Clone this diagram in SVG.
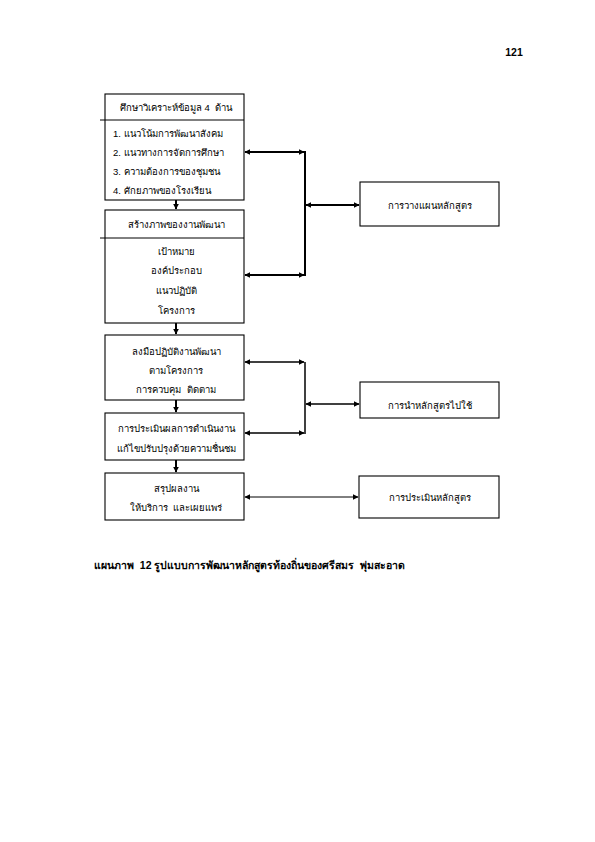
<svg xmlns="http://www.w3.org/2000/svg" width="595" height="842" viewBox="0 0 595 842">
<style>
text{font-family:"Liberation Sans","Noto Sans",sans-serif;font-size:9.5px;fill:#000;white-space:pre}
.c{text-anchor:middle}
.b{font-weight:bold}
.cap{font-size:10.5px}
.box{fill:#fff;stroke:#000;stroke-width:1.1}
.div{stroke:#000;stroke-width:1}
.w2{stroke:#000;stroke-width:2;fill:none}
.w15{stroke:#000;stroke-width:1.5;fill:none}
.w1{stroke:#000;stroke-width:1;fill:none}
</style>
<defs>
<marker id="ah" viewBox="0 0 10 10" refX="9" refY="5" markerWidth="6" markerHeight="6" markerUnits="userSpaceOnUse" orient="auto-start-reverse"><path d="M0,0 L10,5 L0,10 z" fill="#000"/></marker>
</defs>
<rect width="595" height="842" fill="#fff"/>
<text x="514" y="56" class="c b cap">121</text>
<g id="n1">
<rect class="box" x="105" y="94" width="139" height="106"/>
<line class="div" x1="100" y1="120" x2="244" y2="120"/>
<text x="176" y="111" class="c" xml:space="preserve">ศึกษาวิเคราะห์ข้อมูล 4  ด้าน</text>
<text x="113" y="137">1. แนวโน้มการพัฒนาสังคม</text>
<text x="113" y="156">2. แนวทางการจัดการศึกษา</text>
<text x="113" y="175">3. ความต้องการของชุมชน</text>
<text x="113" y="194">4. ศักยภาพของโรงเรียน</text>
</g>
<g id="n2">
<rect class="box" x="105" y="210" width="139" height="113"/>
<line class="div" x1="100" y1="238" x2="244" y2="238"/>
<text x="176" y="228" class="c">สร้างภาพของงานพัฒนา</text>
<text x="176" y="255" class="c">เป้าหมาย</text>
<text x="176" y="274" class="c">องค์ประกอบ</text>
<text x="176" y="294" class="c">แนวปฏิบัติ</text>
<text x="176" y="314" class="c">โครงการ</text>
</g>
<g id="n3">
<rect class="box" x="105" y="335" width="139" height="65"/>
<text x="176" y="355" class="c">ลงมือปฏิบัติงานพัฒนา</text>
<text x="176" y="374" class="c">ตามโครงการ</text>
<text x="176" y="393" class="c" xml:space="preserve">การควบคุม  ติดตาม</text>
</g>
<g id="n4">
<rect class="box" x="105" y="413" width="139" height="47"/>
<text x="176" y="432" class="c">การประเมินผลการดำเนินงาน</text>
<text x="176" y="452" class="c">แก้ไขปรับปรุงด้วยความชื่นชม</text>
</g>
<g id="n5">
<rect class="box" x="105" y="473" width="139" height="47"/>
<text x="176" y="492" class="c">สรุปผลงาน</text>
<text x="176" y="511" class="c" xml:space="preserve">ให้บริการ  และเผยแพร่</text>
</g>
<g id="nA">
<rect class="box" x="360" y="182" width="139" height="44"/>
<text x="430" y="209" class="c">การวางแผนหลักสูตร</text>
</g>
<g id="nB">
<rect class="box" x="360" y="382" width="139" height="36"/>
<text x="430" y="409" class="c">การนำหลักสูตรไปใช้</text>
</g>
<g id="nC">
<rect class="box" x="359" y="476" width="140" height="42"/>
<text x="430" y="501" class="c">การประเมินหลักสูตร</text>
</g>
<g id="connectors">
<line class="w2" x1="176" y1="200" x2="176" y2="209" marker-end="url(#ah)"/>
<line class="w2" x1="176" y1="323" x2="176" y2="334" marker-end="url(#ah)"/>
<line class="w2" x1="176" y1="400" x2="176" y2="412" marker-end="url(#ah)"/>
<line class="w2" x1="176" y1="460" x2="176" y2="472" marker-end="url(#ah)"/>
<line class="w2" x1="305" y1="151" x2="305" y2="276"/>
<line class="w2" x1="304" y1="152" x2="245" y2="152" marker-start="url(#ah)" marker-end="url(#ah)"/>
<line class="w2" x1="304" y1="275" x2="245" y2="275" marker-start="url(#ah)" marker-end="url(#ah)"/>
<line class="w2" x1="306" y1="205" x2="359" y2="205" marker-start="url(#ah)" marker-end="url(#ah)"/>
<line class="w15" x1="305" y1="362" x2="305" y2="434"/>
<line class="w15" x1="304" y1="362" x2="245" y2="362" marker-start="url(#ah)" marker-end="url(#ah)"/>
<line class="w15" x1="304" y1="433" x2="245" y2="433" marker-start="url(#ah)" marker-end="url(#ah)"/>
<line class="w15" x1="306" y1="404" x2="359" y2="404" marker-start="url(#ah)" marker-end="url(#ah)"/>
<line class="w1" x1="245" y1="497" x2="358" y2="497" marker-start="url(#ah)" marker-end="url(#ah)"/>
</g>
<text x="94" y="569" class="b cap" xml:space="preserve">แผนภาพ  12 รูปแบบการพัฒนาหลักสูตรท้องถิ่นของศรีสมร  พุ่มสะอาด</text>
</svg>
